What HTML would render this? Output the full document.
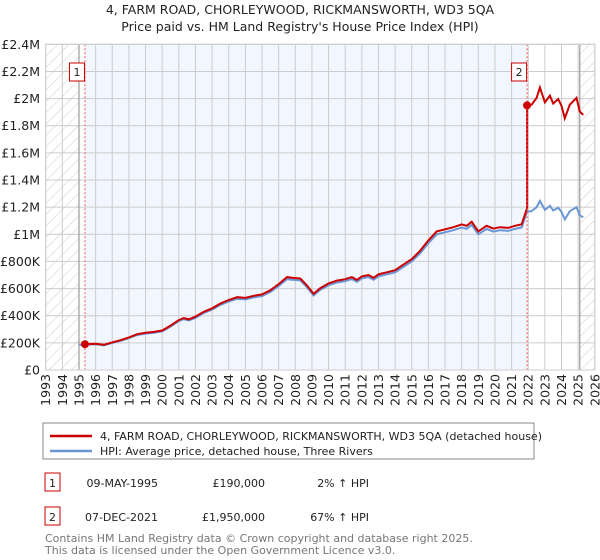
<!DOCTYPE html>
<html><head><meta charset="utf-8"><style>
body{margin:0;background:#fff;font-family:"DejaVu Sans","Liberation Sans",sans-serif;}
svg{display:block}
</style></head><body>
<svg id="c" width="600" height="560" xmlns="http://www.w3.org/2000/svg">
<defs><pattern id="hatch" width="8" height="8" patternUnits="userSpaceOnUse" patternTransform="rotate(45)"><line x1="0" y1="0" x2="0" y2="8" stroke="#ccc" stroke-width="1"/></pattern></defs>
<text x="300" y="14" text-anchor="middle" font-size="12.5" fill="#222">4, FARM ROAD, CHORLEYWOOD, RICKMANSWORTH, WD3 5QA</text>
<text x="300" y="31" text-anchor="middle" font-size="12.5" fill="#222">Price paid vs. HM Land Registry's House Price Index (HPI)</text>
<g id="plot"></g>
<rect x="43" y="423" width="491" height="36" fill="#fff" stroke="#888"/>
<line x1="50" y1="436" x2="92" y2="436" stroke="#cc0000" stroke-width="2.5"/>
<text x="100" y="440" font-size="11" fill="#222">4, FARM ROAD, CHORLEYWOOD, RICKMANSWORTH, WD3 5QA (detached house)</text>
<line x1="50" y1="451" x2="92" y2="451" stroke="#6a96d4" stroke-width="2.5"/>
<text x="100" y="455" font-size="11" fill="#222">HPI: Average price, detached house, Three Rivers</text>
<g font-size="11" fill="#222">
<rect x="45" y="473" width="15" height="18" fill="#fff" stroke="#cc0000"/>
<text x="52.5" y="487" text-anchor="middle">1</text>
<text x="158" y="487" text-anchor="end">09-MAY-1995</text>
<text x="265" y="487" text-anchor="end">£190,000</text>
<text x="369" y="487" text-anchor="end">2% ↑ HPI</text>
</g>
<g font-size="11" fill="#222">
<rect x="45" y="507" width="15" height="18" fill="#fff" stroke="#cc0000"/>
<text x="52.5" y="521" text-anchor="middle">2</text>
<text x="158" y="521" text-anchor="end">07-DEC-2021</text>
<text x="265" y="521" text-anchor="end">£1,950,000</text>
<text x="369" y="521" text-anchor="end">67% ↑ HPI</text>
</g>
<text x="45" y="542" font-size="11" fill="#777">Contains HM Land Registry data © Crown copyright and database right 2025.</text>
<text x="45" y="554" font-size="11" fill="#777">This data is licensed under the Open Government Licence v3.0.</text>
</svg>
<script>
const hpiDates=[1995.0,1995.36,1996,1996.5,1997,1997.5,1998,1998.5,1999,1999.5,2000,2000.5,2001,2001.3,2001.6,2002,2002.5,2003,2003.5,2004,2004.5,2005,2005.5,2006,2006.5,2007,2007.5,2007.8,2008.3,2008.7,2009.1,2009.5,2010,2010.5,2011,2011.4,2011.7,2012,2012.4,2012.7,2013,2013.5,2014,2014.5,2015,2015.5,2016,2016.5,2017,2017.5,2018,2018.3,2018.6,2019,2019.5,2019.9,2020.3,2020.8,2021.2,2021.6,2021.93,2022.2,2022.5,2022.7,2023,2023.3,2023.5,2023.8,2024,2024.2,2024.5,2024.9,2025.1,2025.3];
const hpiValues=[186,186,190,182,200,215,235,258,268,275,285,320,360,375,365,385,420,445,480,505,525,520,535,545,575,620,670,665,660,610,550,590,625,645,655,670,650,675,685,665,690,705,720,760,800,860,935,1000,1015,1030,1050,1040,1070,1000,1040,1020,1030,1025,1040,1050,1167,1170,1200,1246,1180,1210,1175,1195,1165,1110,1170,1200,1140,1125];
const saleDates=[1995.36,2021.93];
const salePrices=[190000,1950000];
const yTicks=[0,200000,400000,600000,800000,1000000,1200000,1400000,1600000,1800000,2000000,2200000,2400000];
const yLabels=["£0","£200K","£400K","£600K","£800K","£1M","£1.2M","£1.4M","£1.6M","£1.8M","£2M","£2.2M","£2.4M"];
const xYears=[1993,1994,1995,1996,1997,1998,1999,2000,2001,2002,2003,2004,2005,2006,2007,2008,2009,2010,2011,2012,2013,2014,2015,2016,2017,2018,2019,2020,2021,2022,2023,2024,2025,2026];

const L=45.7,R=594.8,T=44.3,B=370;
const X=t=>L+(t-1993)/(2026-1993)*(R-L);
const Y=v=>B-v/2400000*(B-T);
const NS="http://www.w3.org/2000/svg";
const g=document.getElementById('plot');
function mk(tag,attrs,parent){const e=document.createElementNS(NS,tag);for(const k in attrs)e.setAttribute(k,attrs[k]);(parent||g).appendChild(e);return e;}
function hpiAt(t){for(let i=1;i<hpiDates.length;i++){if(t<=hpiDates[i]){const f=(t-hpiDates[i-1])/(hpiDates[i]-hpiDates[i-1]);return (hpiValues[i-1]+f*(hpiValues[i]-hpiValues[i-1]))*1000;}}return hpiValues[hpiValues.length-1]*1000;}

let e=mk('rect',{x:L,y:T,width:R-L,height:B-T,fill:'#fff'});


e=mk('rect',{x:X(saleDates[0]),y:T,width:X(saleDates[1])-X(saleDates[0]),height:B-T,fill:'#eef3fd',opacity:0.75});


e=mk('rect',{x:L,y:T,width:X(1995)-L,height:B-T,fill:'url(#hatch)'});


e=mk('rect',{x:X(2025.1),y:T,width:R-X(2025.1),height:B-T,fill:'url(#hatch)'});



yTicks.forEach((v,i)=>{
  const l=mk('line',{x1:L,x2:R,y1:Y(v),y2:Y(v),stroke:'#cccccc','stroke-width':1});
  
  
  const t=mk('text',{x:40,y:Y(v)+4.5,'text-anchor':'end','font-size':12.5,fill:'#222'});
  t.textContent=yLabels[i];
  
  
});
xYears.forEach(yr=>{
  const l=mk('line',{x1:X(yr),x2:X(yr),y1:T,y2:B,stroke:'#cccccc','stroke-width':1});
  
  
  const t=mk('text',{x:0,y:0,'text-anchor':'end','font-size':12.5,fill:'#222',transform:`translate(${X(yr)+4.5},${B+4}) rotate(-90)`});
  t.textContent=yr;
  
  
});
e=mk('line',{x1:X(1995),x2:X(1995),y1:T,y2:B,stroke:'#888'});


e=mk('line',{x1:X(2025.1),x2:X(2025.1),y1:T,y2:B,stroke:'#888'});



// HPI line
let d=hpiDates.map((t,i)=>(i?'L':'M')+X(t).toFixed(1)+','+Y(hpiValues[i]*1000).toFixed(1)).join(' ');
e=mk('path',{d:d,fill:'none',stroke:'#6a96d4','stroke-width':2});


// property line
const f1=salePrices[0]/hpiAt(saleDates[0]), f2=salePrices[1]/hpiAt(saleDates[1]);
let pts=[];
hpiDates.forEach((t,i)=>{
  if(t<saleDates[0])return;
  if(t<saleDates[1]) pts.push([t,hpiValues[i]*1000*f1]);
  else { if(t===saleDates[1]) pts.push([t,hpiValues[i]*1000*f1]); pts.push([t,hpiValues[i]*1000*f2]); }
});
d=pts.map((p,i)=>(i?'L':'M')+X(p[0]).toFixed(1)+','+Y(p[1]).toFixed(1)).join(' ');
e=mk('path',{d:d,fill:'none',stroke:'#cc0000','stroke-width':2});



saleDates.forEach((t,i)=>{
  const l=mk('line',{x1:X(t),x2:X(t),y1:T,y2:B,stroke:'#ee5555','stroke-dasharray':'2,2','stroke-width':1});
  
  
  const c=mk('circle',{cx:X(t),cy:Y(salePrices[i]),r:4,fill:'#cc0000'});
  
  
  const bx=X(t)-(i?10:10);
  const r=mk('rect',{x:bx-5.5,y:63,width:15,height:18,fill:'#fff',stroke:'#cc0000'});
  
  
  const tx=mk('text',{x:bx+2,y:76,'text-anchor':'middle','font-size':11,fill:'#222'});
  tx.textContent=String(i+1);
  
  
});
e=mk('rect',{x:L,y:T,width:R-L,height:B-T,fill:'none',stroke:'#ccc'});


</script>
</body></html>
